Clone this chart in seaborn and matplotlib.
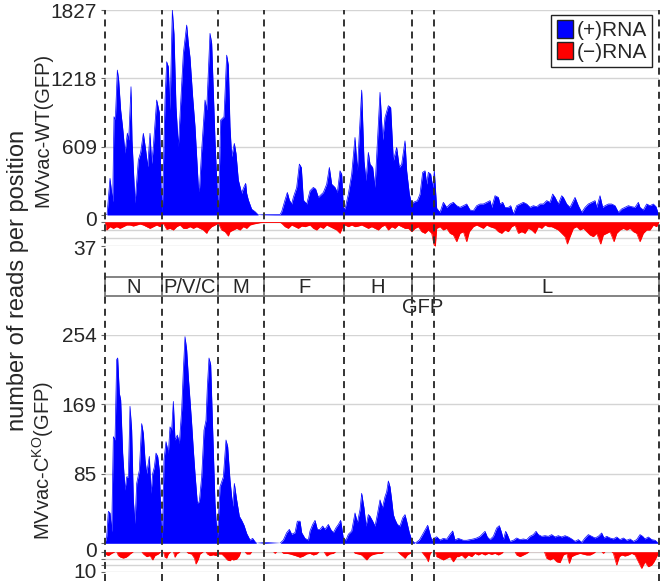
import numpy as np
import pandas as pd
import matplotlib
matplotlib.use("Agg")
import matplotlib.pyplot as plt
import matplotlib.transforms as mtransforms
import seaborn as sns
from matplotlib.patches import Rectangle, Patch

sns.set_theme(style="white")
plt.rcParams['font.family'] = ['Liberation Sans', 'DejaVu Sans']
plt.rcParams['mathtext.default'] = 'regular'

# ---------------- data ----------------
GENOME_LEN = 16620
gene_names = ["N", "P/V/C", "M", "F", "H", "GFP", "L"]
gene_bounds = [0, 1710, 3390, 4770, 7170, 9200, 9880, 16620]

wt_ticks = [0, 609, 1218, 1827]
wt_minus_max = 37
ko_ticks = [0, 85, 169, 254]
ko_tick_vals = [0, 254 / 3, 2 * 254 / 3, 254]
ko_minus_max = 10

wt_plus_pos = [0, 60, 150, 230, 270, 310, 370, 410, 470, 530, 600, 670, 710, 780, 810, 900,
               1000, 1070, 1150, 1220, 1280, 1350, 1400, 1450, 1550, 1630, 1680, 1720,
               1800, 1850, 1900, 1950, 2020, 2070, 2130, 2200, 2250, 2350, 2450, 2500, 2550,
               2630, 2700, 2800, 2830, 2900, 3000, 3050, 3150, 3200, 3300, 3370, 3400,
               3470, 3570, 3650, 3700, 3750, 3800, 3880, 3930, 4000, 4100, 4150, 4220, 4250,
               4300, 4400, 4500, 4600, 4770, 5250, 5300, 5400, 5470, 5530, 5600, 5650, 5750,
               5830, 5890, 5950, 6050, 6150, 6250, 6320, 6400, 6550, 6650, 6730, 6800, 6900,
               6970, 7050, 7100, 7150, 7200, 7300, 7400, 7500, 7570, 7700, 7770, 7830, 7900,
               7950, 8030, 8100, 8170, 8250, 8330, 8400, 8500, 8570, 8650, 8750, 8830, 8900,
               9000, 9050, 9130, 9200, 9250, 9370, 9450, 9530, 9600, 9650, 9700, 9770, 9830,
               9880, 9950, 10050, 10150, 10250, 10350, 10450, 10550, 10650, 10750, 10850,
               10950, 11050, 11150, 11250, 11350, 11450, 11550, 11600, 11700, 11800, 11850,
               11930, 12000, 12100, 12170, 12250, 12350, 12450, 12550, 12650, 12750, 12850,
               12950, 13050, 13150, 13250, 13350, 13430, 13500, 13600, 13700, 13750, 13850,
               13950, 14100, 14200, 14300, 14400, 14500, 14600, 14700, 14750, 14850, 14930,
               15000, 15100, 15200, 15300, 15400, 15500, 15600, 15700, 15800, 15900, 16000,
               16050, 16150, 16250, 16350, 16450, 16530, 16600, 16620]
wt_plus_val = [0, 0, 327, 118, 876, 850, 1292, 1203, 935, 776, 552, 730, 668, 1143, 668, 107,
               490, 560, 728, 579, 430, 728, 458, 609, 1025, 913, 252, 20,
               1025, 1366, 1321, 935, 1827, 1612, 965, 609, 890, 1441, 1693, 1530, 1405,
               1054, 790, 252, 210, 579, 1025, 935, 1619, 1530, 668, 193, 30,
               846, 876, 1425, 1336, 787, 520, 638, 549, 312, 193, 238, 282, 193,
               134, 52, 30, 0, 3, 5, 30, 134, 201, 134, 98, 158, 246,
               454, 424, 134, 98, 216, 246, 231, 158, 201, 275, 424, 275, 246,
               201, 394, 365, 68, 54, 187, 365, 691, 394, 1113, 483, 305, 558,
               454, 424, 246, 633, 1093, 669, 870, 974, 958, 483, 602, 424, 454,
               661, 394, 187, 98, 113, 128, 187, 380, 394, 275, 380, 365, 246,
               394, 60, 24, 113, 68, 98, 113, 83, 68, 83, 98,
               45, 39, 83, 98, 98, 113, 128, 68, 172, 157, 98,
               113, 68, 68, 83, 9, 83, 98, 113, 98, 68, 83,
               74, 98, 98, 128, 113, 187, 157, 98, 172, 157, 98,
               68, 157, 83, 24, 68, 98, 113, 128, 68, 172, 68,
               83, 98, 98, 83, 24, 54, 68, 83, 74, 68, 113,
               68, 45, 98, 83, 98, 74, 9, 0]

wt_minus_pos = [0, 50, 150, 250, 350, 450, 550, 650, 750, 850, 950, 1050, 1150, 1250, 1350,
                1450, 1550, 1650, 1750, 1850, 1950, 2050, 2150, 2250, 2350, 2450, 2550, 2650,
                2750, 2850, 2950, 3050, 3100, 3200, 3300, 3400, 3500, 3600, 3700, 3750, 3850,
                3950, 4050, 4150, 4250, 4350, 4450, 4550, 4650, 4770, 5250, 5300, 5400, 5500,
                5600, 5700, 5800, 5900, 6000, 6150, 6250, 6350, 6450, 6550, 6650, 6750, 6850,
                6950, 7050, 7130, 7200, 7300, 7400, 7500, 7600, 7700, 7800, 7900, 8000, 8100,
                8200, 8300, 8400, 8500, 8600, 8700, 8800, 8900, 9000, 9100, 9200, 9300, 9400,
                9500, 9600, 9700, 9800, 9870, 9910, 9950, 10050, 10150, 10250, 10350, 10450,
                10550, 10650, 10750, 10850, 10930, 11050, 11150, 11250, 11350, 11450, 11550,
                11700, 11800, 11900, 12000, 12100, 12200, 12300, 12400, 12500, 12600, 12700,
                12800, 12900, 13000, 13100, 13200, 13300, 13400, 13500, 13600, 13700, 13800,
                13870, 13950, 14050, 14150, 14250, 14350, 14450, 14550, 14650, 14750, 14870,
                14950, 15050, 15150, 15270, 15350, 15450, 15550, 15650, 15750, 15850, 15950,
                16050, 16150, 16250, 16350, 16450, 16550, 16620]
wt_minus_val = [0, 12.5, 7.5, 10, 7.5, 10, 7.5, 5, 5, 6.5, 5, 3.5, 5, 7.5, 10,
                7.5, 5, 7.5, 2.5, 11.5, 10, 12.5, 7.5, 5, 10, 10, 7.5, 10,
                7.5, 10, 12.5, 17.5, 12.5, 7.5, 5, 2.5, 12.5, 15, 21.6, 15, 12.5,
                10, 12.5, 7.5, 10, 5, 3.5, 2.5, 1.5, 1, 1, 2.5, 7.5, 10,
                5, 7.5, 10, 6.5, 7.5, 5, 10, 12.5, 7.5, 10, 5, 7.5, 10,
                12.5, 17.5, 7.5, 5, 7.5, 5, 7.5, 6.5, 5, 7.5, 10, 7.5, 10,
                12.5, 7.5, 5, 12.5, 7.5, 10, 5, 7.5, 10, 10, 15, 10, 7.5,
                15, 17.5, 12.5, 17.5, 35, 37, 10, 7.5, 12.5, 10, 17.5, 20,
                30, 17.5, 15, 30, 15, 7.5, 5, 7.5, 10, 5, 7.5,
                10, 15, 17.5, 12.5, 15, 7.5, 5, 17.5, 15, 17.5, 10,
                12.5, 17.5, 7.5, 10, 5, 7.5, 7.5, 10, 12.5, 17.5, 22.5,
                33.6, 22.5, 10, 7.5, 12.5, 10, 15, 20, 22.5, 17.5, 33.6,
                20, 17.5, 15, 30, 17.5, 12.5, 10, 12.5, 10, 15, 17.5,
                30, 17.5, 12.5, 12.5, 5, 7.5, 0]

ko_plus_pos = [0, 50, 100, 150, 200, 250, 300, 350, 380, 430, 470, 530, 600, 650, 700, 750,
               800, 850, 900, 950, 1030, 1100, 1150, 1200, 1250, 1330, 1380, 1430, 1480, 1530,
               1580, 1630, 1680, 1720, 1770, 1830, 1900, 1950, 2000, 2050, 2100, 2170, 2230,
               2300, 2350, 2400, 2450, 2500, 2550, 2600, 2650, 2700, 2770, 2830, 2900, 2970,
               3030, 3070, 3120, 3170, 3230, 3300, 3370, 3450, 3550, 3630, 3680, 3750, 3830,
               3880, 3950, 4030, 4100, 4170, 4250, 4350, 4430, 4500, 4550, 4800, 5250, 5350,
               5450, 5530, 5600, 5700, 5770, 5850, 5900, 6000, 6100, 6150, 6230, 6300, 6370,
               6450, 6530, 6600, 6700, 6770, 6850, 6930, 7000, 7070, 7150, 7230, 7300, 7400,
               7500, 7570, 7650, 7700, 7770, 7830, 7900, 7950, 8030, 8100, 8170, 8250, 8320,
               8400, 8450, 8500, 8550, 8600, 8650, 8700, 8770, 8850, 8930, 9000, 9050, 9130,
               9200, 9300, 9430, 9530, 9610, 9680, 9750, 9800, 9870, 9950, 10050, 10150, 10250,
               10350, 10430, 10500, 10600, 10750, 10850, 10950, 11050, 11150, 11250, 11350,
               11400, 11470, 11550, 11650, 11750, 11830, 11900, 11950, 12020, 12070, 12150,
               12250, 12350, 12450, 12550, 12650, 12750, 12850, 12930, 13000, 13100, 13200,
               13300, 13400, 13500, 13600, 13700, 13800, 13900, 14000, 14100, 14200, 14300,
               14400, 14500, 14600, 14700, 14800, 14900, 14970, 15050, 15150, 15250, 15350,
               15450, 15550, 15650, 15750, 15850, 15950, 16050, 16130, 16200, 16300, 16400,
               16500, 16570, 16620]
ko_plus_val = [0, 8, 39, 37, 14, 130, 126, 224, 226, 183, 175, 110, 65, 81, 81, 167,
               138, 53, 24, 73, 89, 146, 134, 102, 85, 106, 61, 85, 93, 110,
               106, 89, 28, 2, 102, 124, 110, 142, 138, 173, 126, 132, 122,
               163, 211, 252, 236, 203, 175, 146, 114, 85, 49, 51, 81, 138,
               150, 191, 226, 218, 138, 49, 4, 69, 81, 126, 118, 77, 45,
               73, 53, 33, 28, 22, 12, 4, 6, 2, 0, 1, 0, 4,
               13, 17, 11, 13, 27, 27, 13, 6, 4, 15, 23, 28, 17,
               17, 21, 17, 23, 17, 13, 19, 23, 28, 6, 4, 11, 15,
               37, 25, 41, 61, 43, 21, 35, 33, 27, 21, 35, 53, 43,
               57, 63, 76, 69, 53, 35, 29, 23, 21, 31, 35, 27, 13,
               4, 0, 4, 11, 17, 22, 11, 4, 6, 8, 4, 6, 5,
               11, 15, 4, 6, 3.7, 3.7, 4.5, 5.3, 6.5, 8.5, 12.6,
               14.6, 7.7, 4.5, 8.5, 18.7, 21.5, 12.6, 4.5, 14.6, 10.6, 2.4,
               3.7, 6.5, 4.5, 5.3, 4.5, 8.5, 10.6, 14.6, 10.6, 8.5, 9.3,
               8.5, 10.6, 7.7, 9.3, 7.7, 9.3, 7.7, 5.3, 2.4, 4.5, 1.2,
               6.5, 10.6, 8.5, 6.5, 8.5, 12.6, 6.5, 8.5, 6.5, 5.3, 7.7,
               4.5, 6.5, 3.7, 5.3, 2.4, 4.5, 10.6, 8.5, 5.3, 7.7, 4.5,
               3.7, 1.2, 0]

ko_minus_pos = [0, 100, 200, 300, 350, 400, 470, 550, 630, 700, 750, 850, 1100, 1150, 1250,
                1350, 1430, 1500, 1600, 1670, 1750, 1800, 1850, 1900, 1970, 2050, 2100, 2150,
                2250, 2450, 2500, 2600, 2680, 2730, 2800, 2850, 2950, 3030, 3070, 3150, 3250,
                3330, 3400, 3500, 3600, 3670, 3750, 3800, 3850, 3950, 4030, 4070, 4200, 4250,
                4350, 4400, 5050, 5100, 5150, 5300, 5350, 5450, 5550, 5650, 5750, 5850, 5950,
                6050, 6150, 6250, 6350, 6420, 6570, 6650, 6750, 6850, 6920, 7470, 7500, 7600,
                7700, 7800, 7850, 7930, 8000, 8100, 8200, 8300, 8370, 8780, 8850, 8950, 9000,
                9070, 9150, 9220, 9500, 9550, 9650, 9700, 9750, 9800, 9900, 9950, 10050, 10150,
                10250, 10350, 10450, 10550, 10600, 10700, 10800, 10900, 11000, 11100, 11200,
                11300, 11400, 11500, 11600, 11700, 11800, 11900, 11950, 12300, 12350, 12450,
                12550, 12650, 12720, 13180, 13250, 13350, 13450, 13550, 13650, 13750, 13850,
                13930, 14000, 14100, 14250, 14450, 14550, 14650, 14720, 14900, 14950, 15000,
                15200, 15250, 15350, 15430, 15500, 15600, 15700, 15800, 15900, 16000, 16100,
                16200, 16300, 16400, 16470, 16550, 16620]
ko_minus_val = [1.1, 1.9, 0.8, 0, 0, 1.9, 2.7, 3.1, 2.7, 1.9, 1.1, 0, 0, 1.1, 2.4,
                1.9, 4, 1.9, 1.1, 0, 0, 2.7, 3.1, 1.1, 0, 0, 2.7, 1.1,
                0, 0, 0.8, 1.1, 3.1, 6, 3.6, 1.1, 0, 0, 1.1, 1.9, 1.5,
                1.9, 1.1, 1.1, 2.7, 4, 4.4, 3.6, 4, 3.6, 1.9, 0, 0, 1.1,
                1.1, 0, 0, 0.8, 0, 0, 0.8, 0.8, 1.1, 1.6, 2.1, 2.7, 2.1,
                1.1, 0.8, 1.6, 1.1, 0, 0, 2.1, 1.1, 0.8, 0, 0, 0.8, 1.1,
                1.6, 3.2, 4, 2.4, 1.6, 1.1, 0.8, 0.8, 0, 0, 1.1, 2.4, 3.2,
                1.6, 0.8, 0, 0, 1.1, 3.2, 4.9, 1.1, 0, 0, 2.4, 3.2, 4,
                3.2, 2.4, 4.9, 2.4, 2.4, 1.6, 3.2, 1.6, 2.4, 0.8, 1.6,
                0.8, 1.6, 0.8, 1.3, 0.8, 1.6, 0.8, 0, 0, 1.6, 2.4,
                1.6, 0.8, 0, 0, 3.2, 4, 3.2, 4.9, 5.3, 1.6, 0.8,
                5.7, 2.4, 1.6, 0.8, 1.6, 1.6, 0.8, 0, 0, 0.8, 0,
                0, 0.8, 6.5, 2.4, 1.6, 2.1, 1.6, 0.8, 1.6, 4.9, 8.1,
                4.9, 7.3, 6.5, 4.9, 2.4, 0]

PLUS_COLOR = "#0000ff"
MINUS_COLOR = "#ff0000"
GRID_COLOR = "#d4d4d4"
DASH_COLOR = "#333333"
FS = 15

# ---------------- figure ----------------
W, H = 666, 582
fig = plt.figure(figsize=(W / 100, H / 100), dpi=100)


def fig_rect(x0, y0, x1, y1):
    return [x0 / W, 1 - y1 / H, (x1 - x0) / W, (y1 - y0) / H]


X0, X1 = 105, 659


def draw_cov(ax, pos, val, color, ymax, ticks, labels, invert=False):
    df = pd.DataFrame({"pos": pos, "val": val})
    ax.fill_between(df["pos"], 0, df["val"], color=color, lw=0, zorder=2)
    sns.lineplot(data=df, x="pos", y="val", color=color, lw=0.5, ax=ax,
                 estimator=None, sort=False, zorder=2)
    ax.set_xlim(0, GENOME_LEN)
    if invert:
        ax.set_ylim(ymax, 0)
    else:
        ax.set_ylim(0, ymax)
    ax.set_xticks([])
    ax.set_yticks(ticks)
    ax.set_yticklabels(labels)
    ax.set_xlabel("")
    ax.set_ylabel("")
    for s in ax.spines.values():
        s.set_visible(False)
    ax.grid(axis="y", color=GRID_COLOR, lw=1.0)
    ax.set_axisbelow(True)
    ax.tick_params(axis="y", length=3, width=0.8, color="#666666", pad=3,
                   labelsize=FS, left=True)
    ax.patch.set_alpha(0)


def shift_label(ax, idx, dy_px):
    lab = ax.get_yticklabels()[idx]
    lab.set_transform(lab.get_transform() +
                      mtransforms.ScaledTranslation(0, dy_px / 100, fig.dpi_scale_trans))


ax1 = fig.add_axes(fig_rect(X0, 10, X1, 215))
draw_cov(ax1, wt_plus_pos, wt_plus_val, PLUS_COLOR, 1827, wt_ticks,
         ["", "609", "1218", "1827"])
ax2 = fig.add_axes(fig_rect(X0, 221.7, X1, 246.3))
draw_cov(ax2, wt_minus_pos, wt_minus_val, MINUS_COLOR, wt_minus_max,
         [0, wt_minus_max / 3, 2 * wt_minus_max / 3, wt_minus_max],
         ["0", "", "", "37"], invert=True)

ax4 = fig.add_axes(fig_rect(X0, 335, X1, 543.3))
draw_cov(ax4, ko_plus_pos, ko_plus_val, PLUS_COLOR, 254, ko_tick_vals,
         [""] + [str(t) for t in ko_ticks[1:]])
ax5 = fig.add_axes(fig_rect(X0, 551.7, X1, 572.3))
draw_cov(ax5, ko_minus_pos, ko_minus_val, MINUS_COLOR, ko_minus_max,
         [0, ko_minus_max / 3, 2 * ko_minus_max / 3, ko_minus_max],
         ["0", "", "", "10"], invert=True)

shift_label(ax2, 0, 3)
shift_label(ax2, 3, -1)
shift_label(ax5, 0, 2)
shift_label(ax5, 3, 2)

# gene map
axg = fig.add_axes(fig_rect(X0, 277, X1, 296))
axg.set_xlim(0, GENOME_LEN)
axg.set_ylim(0, 1)
axg.axis("off")
axg.add_patch(Rectangle((0, 0), GENOME_LEN, 1, fill=False, ec="#7a7a7a", lw=1.3,
                        clip_on=False))
for b in gene_bounds[1:-1]:
    axg.plot([b, b], [0, 1], color="#7a7a7a", lw=1.3, clip_on=False)
for name, a, b in zip(gene_names, gene_bounds[:-1], gene_bounds[1:]):
    if name == "GFP":
        axg.text((a + b) / 2, -0.6, name, ha="center", va="center", fontsize=FS - 0.5)
    else:
        axg.text((a + b) / 2, 0.47, name, ha="center", va="center", fontsize=FS - 0.5)

# dashed gene boundary lines across the whole figure
axo = fig.add_axes(fig_rect(X0, 10, X1, 581), zorder=10)
axo.set_xlim(0, GENOME_LEN)
axo.set_ylim(0, 1)
axo.axis("off")
axo.patch.set_alpha(0)
for b in gene_bounds:
    axo.axvline(b, color=DASH_COLOR, lw=1.4, linestyle=(0, (3.6, 2.6)), clip_on=False)

# legend
ax1.legend(handles=[Patch(facecolor=PLUS_COLOR, edgecolor="#222222", label="(+)RNA"),
                    Patch(facecolor=MINUS_COLOR, edgecolor="#222222", label="(\u2212)RNA")],
           loc="upper right", bbox_to_anchor=((652 - X0) / (X1 - X0), (215 - 15) / 205),
           borderaxespad=0, frameon=True, fancybox=False, edgecolor="#222222",
           framealpha=1, fontsize=FS, handlelength=0.8, handleheight=0.9,
           handletextpad=0.15, borderpad=0.25, labelspacing=0.1)

# axis titles
fig.text(18 / W, 1 - 280 / H, "number of reads per position", rotation=90,
         ha="center", va="center", fontsize=17)
fig.text(43 / W, 1 - 130 / H, "MVvac-WT(GFP)", rotation=90,
         ha="center", va="center", fontsize=FS - 0.5)
fig.text(43 / W, 1 - 460 / H, "MVvac-C$^{KO}$(GFP)", rotation=90,
         ha="center", va="center", fontsize=FS - 0.5)

fig.savefig("out.png", dpi=100)
